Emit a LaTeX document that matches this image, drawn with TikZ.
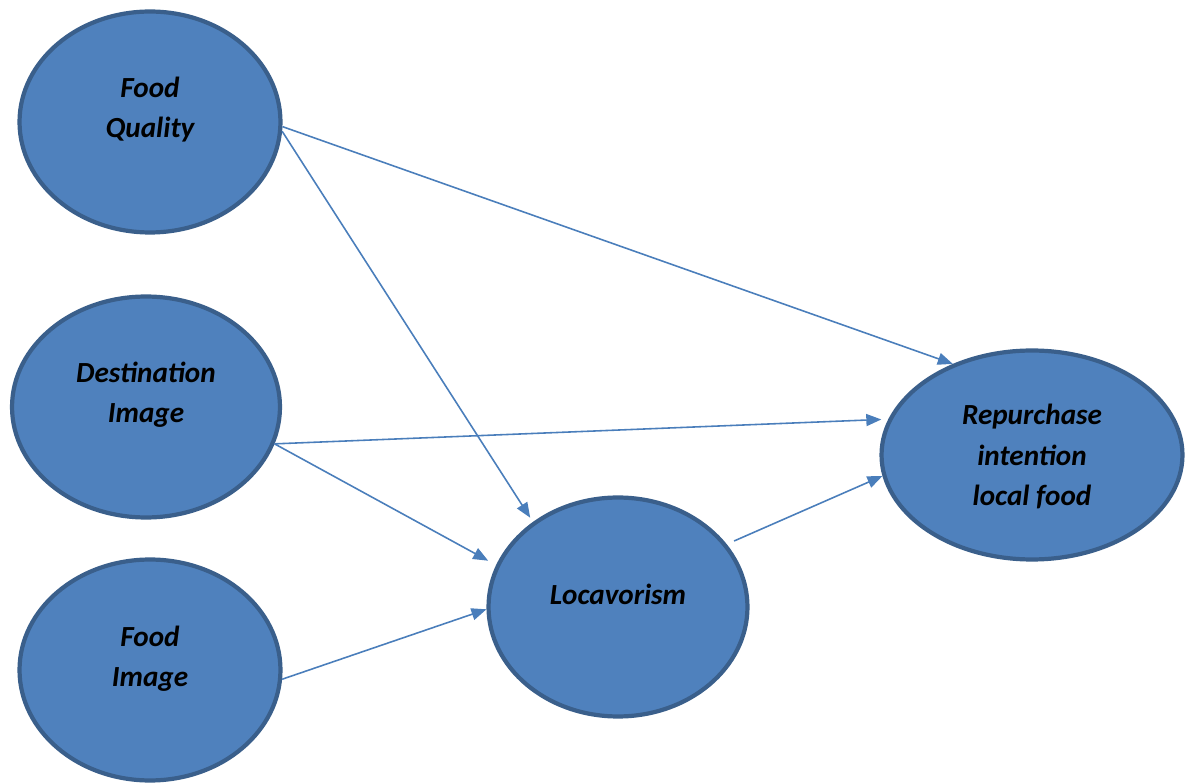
\documentclass[tikz,border=0pt]{standalone}
\usepackage{fontspec}
\setmainfont{Carlito}
\usetikzlibrary{shapes.geometric,arrows.meta}
\definecolor{bubblefill}{HTML}{4F81BD}
\definecolor{bubbleline}{HTML}{3A5F8B}
\definecolor{linkblue}{HTML}{4A7EBB}
\tikzset{
  bubble/.style={ellipse,draw=bubbleline,fill=bubblefill,line width=2.4pt,inner sep=0pt},
  txt/.style={align=center,font=\fontsize{16.6}{23}\selectfont\bfseries\itshape},
  link/.style={draw=linkblue,line width=0.9pt,-{Triangle[length=0.3cm,width=0.24cm]}}
}
\begin{document}
\begin{tikzpicture}[x=0.02cm,y=-0.02cm]
\useasboundingbox (0,0) rectangle (1187,783);

\node[bubble,minimum width=5.22cm,minimum height=4.42cm] (fq) at (150,122) {};
\node[bubble,minimum width=5.36cm,minimum height=4.42cm] (di) at (146,407) {};
\node[bubble,minimum width=5.22cm,minimum height=4.42cm] (fi) at (150,670) {};
\node[bubble,minimum width=5.18cm,minimum height=4.38cm] (loc) at (618,607) {};
\node[bubble,minimum width=6.02cm,minimum height=4.18cm] (rp) at (1032,455) {};

\node[txt] at ([yshift=0.25cm]fq.center) {Food\\Quality};
\node[txt] at ([yshift=0.24cm]di.center) {Destination\\Image};
\node[txt] at ([yshift=0.22cm]fi.center) {Food\\Image};
\node[txt] at ([yshift=0.26cm]loc.center) {Locavorism};
\node[txt] at ([yshift=-0.03cm]rp.center) {Repurchase\\intention\\local food};

\draw[link] (fq.-2) -- (rp.131);
\draw[link,shorten >=0.1cm] (fq.-4) -- (loc.135);
\draw[link,shorten >=0.14cm] (di.-16) -- (rp.166);
\draw[link,shorten >=0.18cm] (di.-16) -- (loc.161);
\draw[link] (fi.-4) -- (loc.181);
\draw[link,shorten <=0.16cm] (loc.30) -- (rp.188);
\end{tikzpicture}
\end{document}
